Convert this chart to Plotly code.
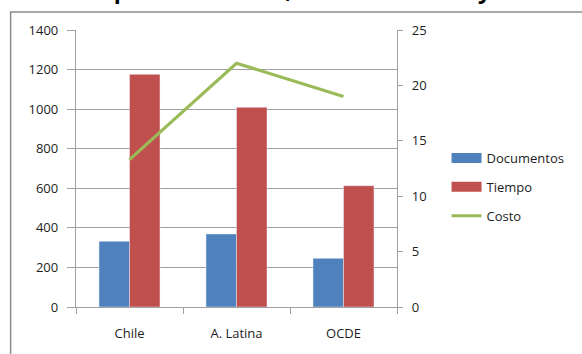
import plotly.graph_objects as go

# Data
categorias = ["Chile", "A. Latina", "OCDE"]
documentos = [332, 369, 246]
tiempo = [1176, 1009, 613]
costo = [13.3, 22.0, 19.0]

titulo = "Costo de Importar en Chile, América Latina y OCDE"

AZUL = "#4F81BD"
ROJO = "#C0504D"
VERDE = "#9BBB59"
GRIS = "#A0A0A0"
TEXTO = "#1E1E1E"
FUENTE = "Open Sans"

W, H = 582, 354
L, R, T, B = 76, 182, 30, 47
PW, PH = W - L - R, H - T - B


def px_x(px):
    return (px - L) / PW


def px_y(py):
    return (H - B - py) / PH


fig = go.Figure()

fig.add_trace(go.Bar(x=categorias, y=documentos, name="Documentos",
                     marker=dict(color=AZUL), showlegend=False,
                     legendgroup="doc"))
fig.add_trace(go.Bar(x=categorias, y=tiempo, name="Tiempo",
                     marker=dict(color=ROJO), showlegend=False,
                     legendgroup="tie"))
fig.add_trace(go.Scatter(x=categorias, y=costo, name="Costo", yaxis="y2",
                         mode="lines", line=dict(color=VERDE, width=3.2),
                         showlegend=False, legendgroup="cos"))

# Legend entries drawn as wide swatches
for nombre, color, ancho, grupo in [("Documentos", AZUL, 10, "doc"),
                                    ("Tiempo", ROJO, 10, "tie"),
                                    ("Costo", VERDE, 3.2, "cos")]:
    fig.add_trace(go.Scatter(x=[None], y=[None], mode="lines", name=nombre,
                             line=dict(color=color, width=ancho),
                             legendgroup=grupo, showlegend=True))

fig.update_layout(
    width=W, height=H,
    margin=dict(l=L, r=R, t=T, b=B),
    paper_bgcolor="white", plot_bgcolor="white",
    font=dict(family=FUENTE, size=13, color=TEXTO),
    barmode="group", bargap=0.43, bargroupgap=0,
    xaxis=dict(showgrid=False, showline=True, linecolor=GRIS, linewidth=1.3,
               ticks="outside", tickson="boundaries", ticklen=6,
               tickcolor=GRIS, tickwidth=1.3, ticklabelstandoff=14),
    yaxis=dict(range=[0, 1400], dtick=200, showgrid=True, gridcolor=GRIS,
               gridwidth=1.3, showline=True, linecolor=GRIS, linewidth=1.3,
               ticks="outside", ticklen=8, tickcolor=GRIS, tickwidth=1.3,
               zeroline=False, ticklabelstandoff=6),
    yaxis2=dict(range=[0, 25], dtick=5, overlaying="y", side="right",
                showgrid=False, showline=True, linecolor=GRIS, linewidth=1.3,
                ticks="outside", ticklen=5, tickcolor=GRIS, tickwidth=1.3,
                zeroline=False, ticklabelstandoff=6),
    legend=dict(x=px_x(450), y=px_y(143), xanchor="left", yanchor="top",
                bgcolor="rgba(0,0,0,0)", tracegroupgap=9,
                font=dict(size=13, family=FUENTE, color=TEXTO)),
    showlegend=True,
)

# Outer chart border
fig.add_shape(type="rect", xref="paper", yref="paper",
              x0=px_x(10), x1=px_x(640), y0=px_y(400), y1=px_y(12),
              line=dict(color="#8C8C8C", width=1.5), fillcolor="rgba(0,0,0,0)",
              layer="below")

# Title, running off the top edge of the page
fig.add_annotation(text="<b>" + titulo + "</b>", xref="paper", yref="paper",
                   x=px_x(-24), y=px_y(7.5), xanchor="left", yanchor="bottom",
                   showarrow=False, font=dict(size=23, family=FUENTE,
                                              color="black"))

fig.write_html("out.html")
